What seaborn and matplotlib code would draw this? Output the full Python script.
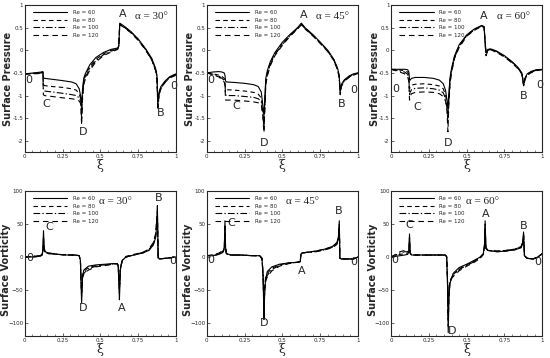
import numpy as np
import pandas as pd
import matplotlib
matplotlib.use("Agg")
import matplotlib.pyplot as plt
from matplotlib.ticker import MultipleLocator
import seaborn as sns

# ---------------- data ----------------
re_labels = ["Re = 60", "Re = 80", "Re = 100", "Re = 120"]

# Surface pressure, alpha = 30
xi_p30 = [0.00, 0.06, 0.11, 0.120, 0.123, 0.13, 0.18, 0.25, 0.31, 0.34, 0.36, 0.370, 0.376, 0.382,
          0.39, 0.40, 0.43, 0.47, 0.52, 0.57, 0.615, 0.622, 0.628, 0.65, 0.70, 0.75, 0.80, 0.84,
          0.865, 0.874, 0.880, 0.888, 0.90, 0.93, 0.96, 1.00]
p30_re60 = [-0.52, -0.50, -0.48, -0.47, -0.60, -0.62, -0.64, -0.67, -0.70, -0.74, -0.85, -1.02, -1.25, -0.85,
            -0.62, -0.52, -0.32, -0.16, -0.05, 0.02, 0.05, 0.10, 0.60, 0.55, 0.42, 0.25, 0.03, -0.18,
            -0.40, -0.55, -1.15, -0.92, -0.80, -0.67, -0.58, -0.52]
p30_re80 = [-0.52, -0.51, -0.49, -0.48, -0.75, -0.78, -0.80, -0.82, -0.85, -0.88, -0.96, -1.08, -1.40, -0.95,
            -0.68, -0.56, -0.36, -0.20, -0.08, 0.00, 0.04, 0.10, 0.58, 0.54, 0.41, 0.24, 0.02, -0.20,
            -0.42, -0.58, -1.20, -0.95, -0.82, -0.68, -0.59, -0.53]
p30_re100 = [-0.52, -0.51, -0.50, -0.49, -0.88, -0.90, -0.92, -0.95, -0.98, -1.00, -1.05, -1.12, -1.52, -1.02,
             -0.72, -0.60, -0.40, -0.23, -0.10, -0.02, 0.03, 0.10, 0.57, 0.53, 0.40, 0.23, 0.01, -0.21,
             -0.44, -0.60, -1.25, -0.98, -0.84, -0.69, -0.60, -0.54]
p30_re120 = [-0.53, -0.52, -0.51, -0.50, -0.98, -1.00, -1.02, -1.05, -1.07, -1.09, -1.12, -1.18, -1.65, -1.08,
             -0.76, -0.64, -0.44, -0.26, -0.12, -0.04, 0.02, 0.10, 0.56, 0.52, 0.39, 0.22, 0.00, -0.22,
             -0.45, -0.62, -1.28, -1.00, -0.85, -0.70, -0.61, -0.55]

# Surface pressure, alpha = 45
xi_p45 = [0.00, 0.04, 0.08, 0.10, 0.115, 0.120, 0.124, 0.13, 0.18, 0.25, 0.31, 0.34, 0.36, 0.370, 0.378,
          0.385, 0.39, 0.40, 0.42, 0.45, 0.50, 0.55, 0.60, 0.625, 0.65, 0.70, 0.75, 0.80, 0.84, 0.865,
          0.875, 0.882, 0.89, 0.91, 0.94, 0.97, 1.00]
p45_re60 = [-0.50, -0.48, -0.47, -0.48, -0.50, -0.55, -0.68, -0.70, -0.71, -0.73, -0.76, -0.80, -0.92, -1.20, -1.45,
            -0.95, -0.62, -0.45, -0.25, -0.05, 0.18, 0.35, 0.50, 0.60, 0.50, 0.35, 0.18, 0.00, -0.20, -0.40,
            -0.55, -0.90, -0.75, -0.65, -0.57, -0.52, -0.50]
p45_re80 = [-0.50, -0.52, -0.55, -0.58, -0.62, -0.68, -0.85, -0.87, -0.88, -0.90, -0.93, -0.97, -1.05, -1.30, -1.60,
            -1.05, -0.68, -0.50, -0.28, -0.08, 0.15, 0.33, 0.49, 0.58, 0.49, 0.34, 0.17, -0.01, -0.21, -0.42,
            -0.57, -0.93, -0.77, -0.66, -0.58, -0.53, -0.50]
p45_re100 = [-0.50, -0.53, -0.57, -0.62, -0.66, -0.72, -0.98, -1.00, -1.00, -1.02, -1.04, -1.07, -1.13, -1.38, -1.72,
             -1.12, -0.72, -0.54, -0.31, -0.10, 0.13, 0.32, 0.48, 0.57, 0.48, 0.33, 0.16, -0.02, -0.22, -0.43,
             -0.58, -0.95, -0.78, -0.67, -0.59, -0.54, -0.51]
p45_re120 = [-0.50, -0.54, -0.59, -0.65, -0.70, -0.78, -1.10, -1.10, -1.10, -1.12, -1.14, -1.16, -1.20, -1.45, -1.82,
             -1.18, -0.76, -0.57, -0.34, -0.12, 0.11, 0.31, 0.47, 0.56, 0.47, 0.32, 0.15, -0.03, -0.23, -0.44,
             -0.60, -0.98, -0.80, -0.68, -0.60, -0.55, -0.51]

# Surface pressure, alpha = 60
xi_p60 = [0.00, 0.05, 0.09, 0.11, 0.118, 0.122, 0.126, 0.135, 0.16, 0.22, 0.28, 0.32, 0.345, 0.36, 0.370,
          0.376, 0.382, 0.39, 0.40, 0.42, 0.45, 0.50, 0.55, 0.60, 0.615, 0.622, 0.628, 0.64, 0.66, 0.70,
          0.75, 0.80, 0.84, 0.865, 0.877, 0.885, 0.90, 0.93, 0.96, 1.00]
p60_re60 = [-0.42, -0.42, -0.42, -0.43, -0.48, -0.65, -0.66, -0.62, -0.60, -0.60, -0.62, -0.66, -0.74, -0.88, -1.10,
            -1.30, -0.95, -0.60, -0.40, -0.12, 0.12, 0.34, 0.47, 0.55, 0.52, 0.20, -0.05, 0.02, 0.03, -0.02,
            -0.12, -0.25, -0.38, -0.50, -0.75, -0.62, -0.52, -0.46, -0.43, -0.42]
p60_re80 = [-0.42, -0.43, -0.45, -0.48, -0.55, -0.85, -0.82, -0.77, -0.75, -0.74, -0.76, -0.79, -0.85, -0.98, -1.20,
            -1.45, -1.05, -0.65, -0.43, -0.14, 0.10, 0.33, 0.46, 0.54, 0.52, 0.18, -0.08, 0.01, 0.03, -0.03,
            -0.13, -0.26, -0.39, -0.51, -0.77, -0.63, -0.53, -0.47, -0.44, -0.42]
p60_re100 = [-0.42, -0.45, -0.48, -0.53, -0.62, -0.98, -0.93, -0.87, -0.84, -0.83, -0.85, -0.88, -0.94, -1.06, -1.28,
             -1.60, -1.12, -0.70, -0.46, -0.16, 0.08, 0.32, 0.45, 0.54, 0.51, 0.16, -0.10, 0.00, 0.02, -0.04,
             -0.14, -0.27, -0.40, -0.52, -0.79, -0.64, -0.54, -0.48, -0.44, -0.43]
p60_re120 = [-0.42, -0.47, -0.52, -0.58, -0.70, -1.10, -1.02, -0.96, -0.93, -0.92, -0.93, -0.96, -1.02, -1.12, -1.35,
             -1.80, -1.20, -0.75, -0.49, -0.18, 0.06, 0.31, 0.44, 0.53, 0.50, 0.14, -0.12, -0.01, 0.01, -0.05,
             -0.15, -0.28, -0.41, -0.53, -0.80, -0.65, -0.55, -0.49, -0.45, -0.43]

# Surface vorticity, alpha = 30
xi_w30 = [0.00, 0.05, 0.10, 0.115, 0.120, 0.124, 0.128, 0.135, 0.16, 0.22, 0.28, 0.33, 0.36, 0.368, 0.372,
          0.376, 0.382, 0.39, 0.42, 0.47, 0.53, 0.58, 0.61, 0.618, 0.622, 0.626, 0.632, 0.645, 0.67, 0.72,
          0.78, 0.82, 0.85, 0.866, 0.873, 0.877, 0.882, 0.89, 0.93, 0.97, 1.00]
w30_re60 = [0, 0, 1, 3, 12, 40, 15, 8, 6, 4, 3, 3, 2, -5, -40, -70, -30, -20, -14, -12, -11, -10, -10, -15, -40,
            -65, -20, -5, 0, 3, 6, 10, 18, 30, 50, 78, 0, -3, -2, -1, 0]
w30_re80 = [0, 0, 1, 3, 10, 32, 13, 7, 5, 4, 3, 3, 2, -5, -35, -60, -28, -22, -16, -13, -12, -11, -10, -14, -35,
            -55, -18, -5, 0, 3, 6, 10, 19, 32, 55, 70, -1, -3, -2, -1, 0]
w30_re100 = [0, 1, 2, 4, 9, 28, 12, 7, 5, 4, 3, 3, 2, -6, -32, -55, -30, -25, -18, -14, -12, -11, -10, -13, -32,
             -50, -17, -5, 0, 3, 7, 11, 20, 34, 58, 65, -2, -3, -2, -1, 0]
w30_re120 = [0, 1, 2, 5, 8, 25, 11, 8, 6, 4, 3, 3, 2, -6, -30, -50, -32, -26, -20, -15, -13, -11, -10, -12, -30,
             -45, -16, -5, 1, 4, 7, 12, 22, 36, 60, 62, -2, -3, -2, -1, 0]

# Surface vorticity, alpha = 45
xi_w45 = [0.00, 0.04, 0.08, 0.10, 0.11, 0.116, 0.120, 0.124, 0.13, 0.16, 0.22, 0.30, 0.35, 0.365, 0.372,
          0.378, 0.382, 0.388, 0.40, 0.43, 0.48, 0.54, 0.60, 0.618, 0.622, 0.63, 0.66, 0.72, 0.78, 0.83,
          0.86, 0.870, 0.876, 0.880, 0.89, 0.93, 0.97, 1.00]
w45_re60 = [2, 2, 4, 6, 8, 15, 55, 15, 5, 3, 3, 2, 2, -2, -30, -95, -60, -35, -22, -15, -11, -9, -8, -7, 4, 6,
            7, 9, 12, 16, 22, 30, 55, -2, -3, -3, -3, 0]
w45_re80 = [2, 2, 4, 7, 9, 15, 50, 14, 5, 3, 3, 2, 2, -2, -28, -88, -55, -32, -25, -17, -12, -9, -8, -7, 4, 6,
            7, 9, 12, 15, 21, 28, 50, -2, -3, -3, -3, 0]
w45_re100 = [2, 3, 5, 8, 10, 14, 45, 13, 5, 3, 3, 2, 2, -3, -25, -80, -50, -35, -28, -19, -13, -10, -8, -7, 4, 6,
             7, 8, 11, 15, 20, 27, 45, -2, -3, -3, -3, 0]
w45_re120 = [2, 3, 6, 9, 11, 14, 40, 12, 5, 3, 3, 2, 2, -3, -24, -75, -48, -38, -30, -21, -14, -10, -8, -7, 4, 6,
             7, 8, 11, 14, 19, 26, 42, -2, -3, -3, -3, 0]

# Surface vorticity, alpha = 60
xi_w60 = [0.00, 0.03, 0.06, 0.09, 0.11, 0.118, 0.122, 0.126, 0.135, 0.18, 0.25, 0.32, 0.36, 0.368, 0.373,
          0.378, 0.383, 0.39, 0.41, 0.45, 0.50, 0.55, 0.59, 0.61, 0.618, 0.622, 0.627, 0.64, 0.70, 0.76,
          0.82, 0.86, 0.870, 0.876, 0.882, 0.90, 0.94, 0.97, 1.00]
w60_re60 = [0, 1, 2, 3, 4, 8, 35, 6, 3, 3, 3, 3, 3, 0, -40, -115, -60, -40, -25, -16, -11, -5, 0, 5, 20, 55,
            15, 10, 8, 9, 11, 14, 20, 38, 2, -2, -3, 0, 5]
w60_re80 = [0, 2, 4, 5, 6, 9, 30, 6, 3, 3, 3, 3, 3, 0, -35, -105, -55, -38, -27, -18, -12, -6, 0, 5, 18, 50,
            14, 10, 8, 9, 11, 15, 21, 35, 2, -2, -3, 0, 5]
w60_re100 = [0, 3, 6, 8, 8, 10, 28, 6, 3, 3, 3, 3, 3, 0, -32, -95, -50, -36, -28, -19, -13, -7, -1, 4, 16, 45,
             13, 10, 9, 10, 12, 16, 22, 33, 2, -2, -3, 0, 5]
w60_re120 = [0, 4, 8, 10, 10, 11, 25, 6, 3, 3, 3, 3, 3, 0, -30, -85, -48, -35, -30, -21, -14, -8, -2, 4, 15, 42,
             13, 10, 9, 10, 12, 16, 22, 32, 2, -2, -3, 0, 5]

alpha_titles = ["\u03b1 = 30\u00b0", "\u03b1 = 45\u00b0", "\u03b1 = 60\u00b0"]

# letter labels: (text, xi, value)
labels_p30 = [("A", 0.645, 0.80), ("B", 0.90, -1.38), ("C", 0.14, -1.19), ("D", 0.385, -1.80),
              ("0", 0.027, -0.66), ("0", 0.985, -0.79)]
labels_p45 = [("A", 0.64, 0.78), ("B", 0.895, -1.19), ("C", 0.195, -1.23), ("D", 0.38, -2.05),
              ("0", 0.026, -0.65), ("0", 0.97, -0.88)]
labels_p60 = [("A", 0.61, 0.76), ("B", 0.88, -1.02), ("C", 0.17, -1.25), ("D", 0.376, -2.05),
              ("0", 0.03, -0.85), ("0", 0.98, -0.76)]
labels_w30 = [("A", 0.64, -77), ("B", 0.886, 89), ("C", 0.165, 46), ("D", 0.385, -77),
              ("0", 0.03, -2), ("0", 0.98, -6)]
labels_w45 = [("A", 0.625, -22), ("B", 0.873, 70), ("C", 0.16, 51), ("D", 0.378, -100),
              ("0", 0.024, -4), ("0", 0.974, -8)]
labels_w60 = [("A", 0.628, 66), ("B", 0.88, 47), ("C", 0.12, 49), ("D", 0.405, -112),
              ("0", 0.026, -4), ("0", 0.967, -8)]

# ---------------- figure ----------------
sns.set_style("ticks")
plt.rcParams["font.family"] = ["DejaVu Sans"]
plt.rcParams["xtick.direction"] = "in"
plt.rcParams["ytick.direction"] = "in"

fig = plt.figure(figsize=(5.5, 3.58), dpi=100)

styles = [(None, "-"), ((4, 3), None), ((6, 2, 1.2, 2), None), ((5, 3.5), None)]

col_x = [0.045, 0.376, 0.711]
w_ax = 0.275
row_top = [0.575, 0.0615]
h_top = 0.411
h_bot = 0.4045

panels = [
    (0, 0, xi_p30, [p30_re60, p30_re80, p30_re100, p30_re120], labels_p30, "p"),
    (0, 1, xi_p45, [p45_re60, p45_re80, p45_re100, p45_re120], labels_p45, "p"),
    (0, 2, xi_p60, [p60_re60, p60_re80, p60_re100, p60_re120], labels_p60, "p"),
    (1, 0, xi_w30, [w30_re60, w30_re80, w30_re100, w30_re120], labels_w30, "w"),
    (1, 1, xi_w45, [w45_re60, w45_re80, w45_re100, w45_re120], labels_w45, "w"),
    (1, 2, xi_w60, [w60_re60, w60_re80, w60_re100, w60_re120], labels_w60, "w"),
]

for row, col, xi, series, letters, kind in panels:
    h = h_top if row == 0 else h_bot
    ax = fig.add_axes([col_x[col], row_top[row], w_ax, h])
    for vals, lab, (dash, ls) in zip(series, re_labels, styles):
        df = pd.DataFrame({"xi": xi, "v": vals})
        line_kws = dict(color="black", lw=0.8, label=lab)
        if ls is not None:
            line_kws["linestyle"] = ls
        sns.lineplot(data=df, x="xi", y="v", ax=ax, sort=False, estimator=None, **line_kws)
        if dash is not None:
            ax.lines[-1].set_dashes(dash)

    ax.set_xlim(0, 1)
    ax.set_xticks([0, 0.25, 0.5, 0.75, 1])
    ax.set_xticklabels(["0", "0.25", "0.5", "0.75", "1"])
    ax.xaxis.set_minor_locator(MultipleLocator(0.05))
    if kind == "p":
        ax.set_ylim(-2.25, 1)
        ax.set_yticks([-2, -1.5, -1, -0.5, 0, 0.5, 1])
        ax.set_yticklabels(["-2", "-1.5", "-1", "-0.5", "0", "0.5", "1"])
        ax.set_ylabel("Surface Pressure", fontsize=7, fontweight="bold")
        ax.yaxis.set_label_coords(-0.075, 0.5)
        ay = 0.74
    else:
        ax.set_ylim(-120, 100)
        ax.set_yticks([-100, -50, 0, 50, 100])
        ax.set_ylabel("Surface Vorticity", fontsize=7, fontweight="bold")
        ax.yaxis.set_label_coords(-0.088, 0.46)
        ay = 84
    ax.set_xlabel("\u03be", fontsize=9, family="DejaVu Serif", labelpad=0)
    ax.tick_params(labelsize=4, length=2, width=0.5, pad=1.2)
    ax.tick_params(axis="x", which="minor", length=1.2, width=0.4)
    for s in ax.spines.values():
        s.set_linewidth(0.8)

    ax_x = [0.84, 0.83, 0.81][col] if kind == "p" else [0.60, 0.63, 0.606][col]
    ax.text(ax_x, ay, alpha_titles[col], fontsize=8, family="Liberation Serif",
            ha="center", va="center")
    for t, x, y in letters:
        ax.text(x, y, t, fontsize=8, ha="center", va="center")

    ax.legend(loc="upper left", frameon=False, fontsize=4, handlelength=6.2,
              labelspacing=0.45, borderaxespad=0.5, handletextpad=1.0,
              bbox_to_anchor=(0.02, 1.0))

fig.savefig("out.png", dpi=100)
